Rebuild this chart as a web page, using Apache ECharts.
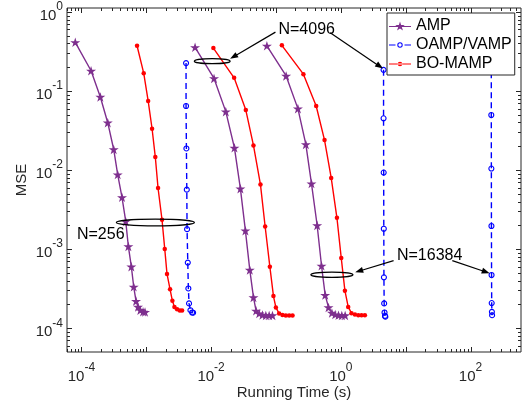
<!DOCTYPE html>
<html>
<head>
<meta charset="utf-8">
<script src="https://cdn.jsdelivr.net/npm/echarts@6/dist/echarts.min.js"></script>
<style>
  html, body { margin: 0; padding: 0; background: #fff; }
  #chart { width: 522px; height: 402px; }
</style>
</head>
<body>
<div id="chart"></div>
<script>
// MSE against running time for AMP, OAMP/VAMP and BO-MAMP at N = 256, 4096, 16384.

const algorithms = ['AMP', 'OAMP/VAMP', 'BO-MAMP'];
const sizes = [256, 4096, 16384];

// [running time (s), MSE] per iteration
const amp256 = [
  [8.05e-5, 0.412], [1.41e-4, 0.180], [1.96e-4, 0.084], [2.55e-4, 0.0397], [3.15e-4, 0.0182],
  [3.63e-4, 8.77e-3], [4.23e-4, 4.52e-3], [4.83e-4, 2.24e-3], [5.30e-4, 1.08e-3], [5.89e-4, 6.0e-4],
  [6.41e-4, 3.34e-4], [6.96e-4, 2.20e-4], [7.47e-4, 1.86e-4], [8.11e-4, 1.69e-4], [8.93e-4, 1.61e-4],
  [9.58e-4, 1.60e-4]
];
const oamp256 = [
  [4.11e-3, 0.225], [4.11e-3, 0.0646], [4.16e-3, 0.01875], [4.22e-3, 5.65e-3], [4.26e-3, 1.79e-3],
  [4.37e-3, 6.75e-4], [4.46e-3, 3.18e-4], [4.57e-3, 2.06e-4], [4.80e-3, 1.69e-4], [5.09e-3, 1.58e-4],
  [5.28e-3, 1.57e-4]
];
const bomamp256 = [
  [7.21e-4, 0.373], [9.14e-4, 0.168], [1.07e-3, 0.0748], [1.23e-3, 0.0333], [1.38e-3, 0.0146],
  [1.52e-3, 5.93e-3], [1.75e-3, 2.35e-3], [1.93e-3, 1.0e-3], [2.09e-3, 4.85e-4], [2.33e-3, 3.10e-4],
  [2.53e-3, 2.22e-4], [2.72e-3, 1.86e-4], [2.99e-3, 1.73e-4], [3.29e-3, 1.67e-4], [3.57e-3, 1.67e-4]
];

const amp4096 = [
  [5.66e-3, 0.356], [0.0111, 0.144], [0.01686, 0.0548], [0.0229, 0.0191], [0.0283, 5.82e-3],
  [0.0338, 1.71e-3], [0.0395, 5.46e-4], [0.0450, 2.45e-4], [0.0494, 1.66e-4], [0.0551, 1.53e-4],
  [0.0619, 1.47e-4], [0.0698, 1.45e-4], [0.0785, 1.45e-4], [0.0883, 1.45e-4]
];
const oamp4096 = [
  [4.56, 0.185], [4.56, 0.0451], [4.58, 9.29e-3], [4.60, 1.81e-3], [4.62, 4.40e-4],
  [4.66, 2.06e-4], [4.72, 1.58e-4], [4.80, 1.43e-4], [4.86, 1.40e-4]
];
const bomamp4096 = [
  [0.01084, 0.349], [0.02265, 0.1465], [0.0343, 0.0574], [0.0450, 0.0205], [0.0577, 6.55e-3],
  [0.0681, 1.93e-3], [0.0805, 6.0e-4], [0.0915, 2.55e-4], [0.0997, 1.83e-4], [0.112, 1.53e-4],
  [0.126, 1.47e-4], [0.142, 1.45e-4], [0.160, 1.45e-4], [0.180, 1.45e-4]
];

const amp16384 = [
  [0.0725, 0.373], [0.1435, 0.155], [0.218, 0.0598], [0.289, 0.0211], [0.353, 6.74e-3],
  [0.432, 1.99e-3], [0.504, 6.16e-4], [0.574, 2.62e-4], [0.646, 1.83e-4], [0.729, 1.56e-4],
  [0.820, 1.49e-4], [0.921, 1.46e-4], [1.036, 1.45e-4], [1.166, 1.45e-4]
];
const oamp16384 = [
  [209, 0.23], [209, 0.0497], [209.5, 0.01045], [210, 1.96e-3], [211, 4.71e-4],
  [212, 2.08e-4], [213.5, 1.61e-4], [215, 1.46e-4]
];
const bomamp16384 = [
  [0.1233, 0.378], [0.265, 0.163], [0.417, 0.0646], [0.561, 0.0239], [0.711, 7.96e-3],
  [0.871, 2.49e-3], [1.015, 7.74e-4], [1.156, 2.98e-4], [1.30, 1.86e-4], [1.46, 1.55e-4],
  [1.65, 1.49e-4], [1.86, 1.46e-4], [2.09, 1.46e-4], [2.35, 1.46e-4]
];

// Axis ranges and labelled powers of ten
const xRange = [6e-5, 600];
const yRange = [5e-5, 1.12];
const xLabelPowers = [-4, -2, 0, 2];
const yLabelPowers = [-4, -3, -2, -1, 0];

// Size callouts in data units: label anchor, ring [t from, t to, MSE], arrows [from, to]
const sizeLabels = ['N=256', 'N=4096', 'N=16384'];
const labelAnchors = [[8.55e-5, 1.535e-3], [0.1093, 0.6], [7.34, 8.2e-4]];
const rings = [[3.46e-4, 5.52e-3, 2.17e-3], [5.52e-3, 0.01963, 0.2378], [0.3456, 1.537, 4.74e-4]];
const arrows = [
  [],
  [[[0.0982, 0.5546], [0.01963, 0.2551]], [[0.686, 0.545], [4.48, 0.192]]],
  [[[6.51, 7.15e-4], [1.668, 5.10e-4]], [[52.4, 7.15e-4], [197.2, 4.95e-4]]]
];

// ---------------------------------------------------------------------------
(function () {
  const FONT = "'Liberation Sans', Arial, Helvetica, sans-serif";
  const AXIS_COLOR = '#262626';
  const RING_RY = [3.4, 2.5, 2.6];

  function starPoints(cx, cy, R) {
    const pts = [];
    for (let k = 0; k < 10; k++) {
      const a = -Math.PI / 2 + k * Math.PI / 5;
      const r = k % 2 === 0 ? R : R * 0.382;
      pts.push((cx + r * Math.cos(a)).toFixed(3) + ' ' + (cy + r * Math.sin(a)).toFixed(3));
    }
    return 'M' + pts.join(' L') + ' Z';
  }
  function circlePath(cx, cy, r, sweep) {
    return 'M' + (cx + r) + ' ' + cy +
      ' A' + r + ' ' + r + ' 0 1 ' + sweep + ' ' + (cx - r) + ' ' + cy +
      ' A' + r + ' ' + r + ' 0 1 ' + sweep + ' ' + (cx + r) + ' ' + cy + ' Z';
  }
  function barPath(x0, x1) {
    return 'M' + x0 + ' 4.4 L' + x1 + ' 4.4 L' + x1 + ' 5.6 L' + x0 + ' 5.6 Z';
  }

  // Legend glyphs: line segment with the marker in a 22 x 10 box
  const legendIcons = {
    'AMP': 'path://' + barPath(0, 22) + ' ' + starPoints(11, 5, 5),
    'OAMP/VAMP': 'path://' + barPath(0, 6.5) + ' ' + barPath(15.5, 22) + ' ' +
      circlePath(11, 5, 2.7, 0) + ' ' + circlePath(11, 5, 1.7, 1),
    'BO-MAMP': 'path://' + barPath(0, 22) + ' ' + circlePath(11, 5, 2.3, 0)
  };

  const styles = {
    'AMP': { color: '#7E2F8E', symbol: 'path://' + starPoints(0, 0, 10), size: 10, dash: 'solid', hollow: false },
    'OAMP/VAMP': { color: '#0000FF', symbol: 'circle', size: 5, dash: [6, 4], hollow: true },
    'BO-MAMP': { color: '#FF0000', symbol: 'circle', size: 4.5, dash: 'solid', hollow: false }
  };

  const runs = {
    'AMP': [amp256, amp4096, amp16384],
    'OAMP/VAMP': [oamp256, oamp4096, oamp16384],
    'BO-MAMP': [bomamp256, bomamp4096, bomamp16384]
  };

  const series = [];
  algorithms.forEach(function (name) {
    const s = styles[name];
    runs[name].forEach(function (data) {
      series.push({
        name: name,
        type: 'line',
        data: data,
        symbol: s.symbol,
        symbolSize: s.size,
        symbolKeepAspect: true,
        showSymbol: true,
        showAllSymbol: true,
        clip: true,
        lineStyle: { color: s.color, width: 1.4, type: s.dash },
        itemStyle: s.hollow
          ? { color: 'rgba(255,255,255,0)', borderColor: s.color, borderWidth: 1.1 }
          : { color: s.color, borderWidth: 0 },
        emphasis: { disabled: true },
        z: 3
      });
    });
  });

  function powerLabel(powers) {
    return function (value) {
      const p = Math.log10(value);
      const r = Math.round(p);
      if (Math.abs(p - r) > 1e-6 || powers.indexOf(r) < 0) return '';
      return '{b|10}{s|' + r + '}';
    };
  }

  const labelRich = {
    b: { fontSize: 15, fontFamily: FONT, color: AXIS_COLOR, lineHeight: 22, verticalAlign: 'bottom' },
    s: { fontSize: 12, fontFamily: FONT, color: AXIS_COLOR, lineHeight: 8, verticalAlign: 'top' }
  };

  const chart = echarts.init(document.getElementById('chart'), null, { renderer: 'canvas' });

  chart.setOption({
    animation: false,
    backgroundColor: '#fff',
    grid: {
      left: 67, top: 8, width: 454, height: 344,
      show: true, borderColor: AXIS_COLOR, borderWidth: 1, backgroundColor: 'transparent',
      containLabel: false, outerBoundsMode: 'none'
    },
    legend: {
      data: algorithms.map(function (name) {
        return {
          name: name,
          icon: legendIcons[name],
          itemStyle: { color: styles[name].color, borderWidth: 0 }
        };
      }),
      orient: 'vertical',
      left: 387, top: 13,
      itemWidth: 22, itemHeight: 10, itemGap: 3,
      symbolKeepAspect: true,
      padding: [5, 3, 3, 2],
      borderColor: AXIS_COLOR, borderWidth: 1, borderRadius: 0,
      backgroundColor: '#fff',
      textStyle: { fontSize: 16, fontFamily: FONT, color: '#000' },
      selectedMode: false,
      z: 6
    },
    xAxis: {
      type: 'log', logBase: 10, min: xRange[0], max: xRange[1],
      name: 'Running Time (s)', nameLocation: 'middle', nameGap: 33, nameMoveOverlap: false,
      nameTextStyle: { fontSize: 15, fontFamily: FONT, color: AXIS_COLOR },
      axisLine: { show: false },
      axisTick: { show: false },
      minorTick: { show: false },
      splitLine: { show: false },
      axisLabel: { formatter: powerLabel(xLabelPowers), rich: labelRich, margin: 10, showMinLabel: true, showMaxLabel: true }
    },
    yAxis: {
      type: 'log', logBase: 10, min: yRange[0], max: yRange[1],
      name: 'MSE', nameLocation: 'middle', nameGap: 38, nameMoveOverlap: false,
      nameTextStyle: { fontSize: 15, fontFamily: FONT, color: AXIS_COLOR },
      axisLine: { show: false },
      axisTick: { show: false },
      minorTick: { show: false },
      splitLine: { show: false },
      axisLabel: { formatter: powerLabel(yLabelPowers), rich: labelRich, margin: 4 }
    },
    series: series
  });

  // Log-spaced tick marks on all four sides, plus the N callouts.
  function toPx(pt) { return chart.convertToPixel({ gridIndex: 0 }, pt); }

  function tickLine(x1, y1, x2, y2) {
    return { type: 'line', shape: { x1: x1, y1: y1, x2: x2, y2: y2 },
             style: { stroke: AXIS_COLOR, lineWidth: 1 }, z: 20, silent: true };
  }

  const elements = [];
  const corner0 = toPx([xRange[0], yRange[0]]);
  const corner1 = toPx([xRange[1], yRange[1]]);
  const gLeft = corner0[0], gBottom = corner0[1], gRight = corner1[0], gTop = corner1[1];

  for (let d = -6; d <= 3; d++) {
    for (let m = 1; m <= 9; m++) {
      const v = m * Math.pow(10, d);
      const len = m === 1 ? 5 : 3;
      if (v > xRange[0] && v < xRange[1]) {
        const x = Math.round(toPx([v, yRange[0]])[0]) + 0.5;
        elements.push(tickLine(x, gBottom, x, gBottom - len), tickLine(x, gTop, x, gTop + len));
      }
      if (v > yRange[0] && v < yRange[1]) {
        const y = Math.round(toPx([xRange[0], v])[1]) + 0.5;
        elements.push(tickLine(gLeft, y, gLeft + len, y), tickLine(gRight, y, gRight - len, y));
      }
    }
  }

  sizeLabels.forEach(function (label, i) {
    const ring = rings[i];
    const a = toPx([ring[0], ring[2]]);
    const b = toPx([ring[1], ring[2]]);
    elements.push({
      type: 'ellipse',
      shape: { cx: (a[0] + b[0]) / 2, cy: a[1], rx: (b[0] - a[0]) / 2, ry: RING_RY[i] },
      style: { fill: 'none', stroke: '#000', lineWidth: 1.3 },
      z: 22, silent: true
    });

    const t = toPx(labelAnchors[i]);
    elements.push({
      type: 'text', x: t[0], y: t[1], z: 22, silent: true,
      style: { text: label, fontSize: 16, fontFamily: FONT, fill: '#000', align: 'left', verticalAlign: 'middle' }
    });

    arrows[i].forEach(function (ar) {
      const p = toPx(ar[0]), q = toPx(ar[1]);
      const dx = q[0] - p[0], dy = q[1] - p[1];
      const L = Math.hypot(dx, dy), ux = dx / L, uy = dy / L;
      const head = 8, half = 3;
      const bx = q[0] - ux * head, by = q[1] - uy * head;
      elements.push({
        type: 'line', shape: { x1: p[0], y1: p[1], x2: bx + ux, y2: by + uy },
        style: { stroke: '#000', lineWidth: 1.2 }, z: 22, silent: true
      });
      elements.push({
        type: 'polygon',
        shape: { points: [[q[0], q[1]], [bx - uy * half, by + ux * half], [bx + uy * half, by - ux * half]] },
        style: { fill: '#000', stroke: 'none' }, z: 22, silent: true
      });
    });
  });

  chart.setOption({ graphic: { elements: elements } });
})();
</script>
</body>
</html>
